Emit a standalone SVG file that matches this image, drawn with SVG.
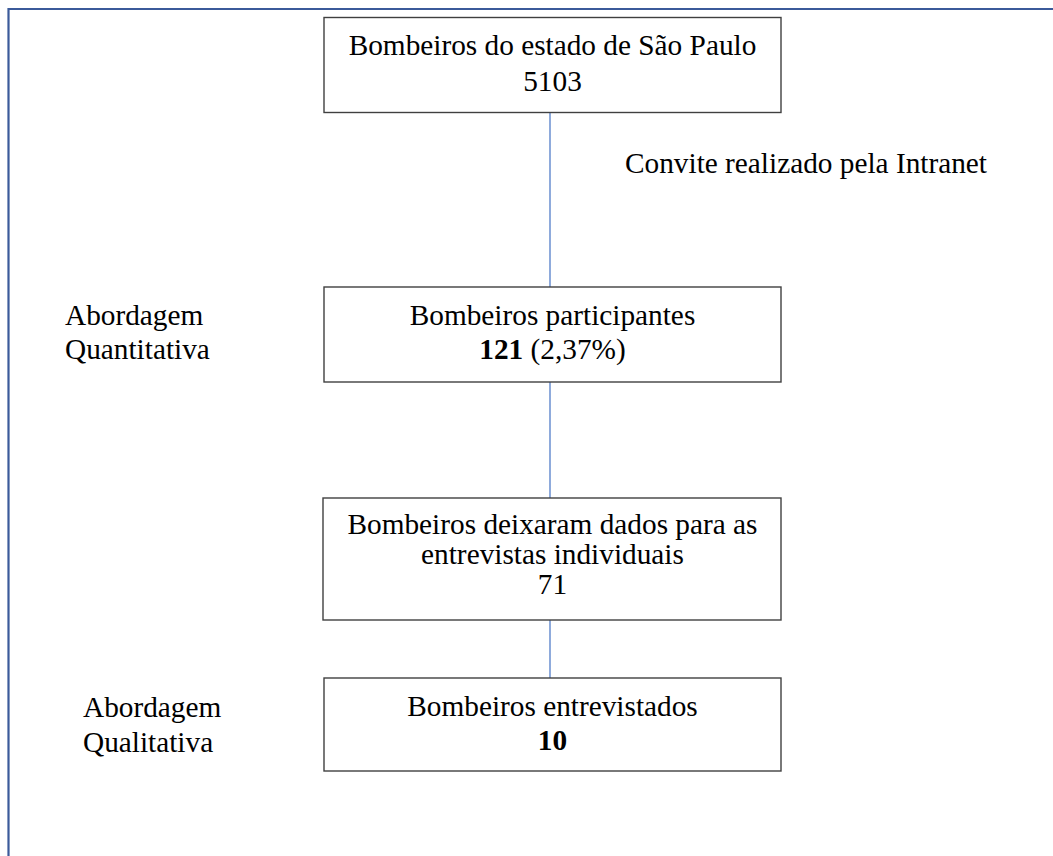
<svg xmlns="http://www.w3.org/2000/svg" width="1053" height="856" viewBox="0 0 1053 856">
<style>
.frame{fill:none;stroke:#3b5a9a;stroke-width:2.2}
.box{fill:#ffffff;stroke:#404040;stroke-width:1.4}
.conn{stroke:#4472c4;stroke-width:1.2;fill:none}
text{font-family:"Liberation Serif","Times New Roman",serif;font-size:29.3px;fill:#000}
.c{text-anchor:middle}
.b{font-weight:bold}
</style>
<rect x="0" y="0" width="1053" height="856" fill="#ffffff"/>
<path class="frame" d="M8.5,856 V9 H1053"/>
<g id="connectors">
<line class="conn" x1="550" y1="113" x2="550" y2="287"/>
<line class="conn" x1="550" y1="382" x2="550" y2="498"/>
<line class="conn" x1="550" y1="620" x2="550" y2="678"/>
</g>
<g id="node-estado">
<rect class="box" x="324" y="17.5" width="457" height="95"/>
<text class="c" x="552.5" y="55">Bombeiros do estado de São Paulo</text>
<text class="c" x="552.5" y="90.5">5103</text>
</g>
<g id="label-convite">
<text x="625" y="173">Convite realizado pela Intranet</text>
</g>
<g id="node-participantes">
<rect class="box" x="324" y="287" width="457" height="95"/>
<text class="c" x="552.5" y="325">Bombeiros participantes</text>
<text class="c" x="552.5" y="359"><tspan class="b">121</tspan> (2,37%)</text>
</g>
<g id="label-quantitativa">
<text x="65" y="325">Abordagem</text>
<text x="65" y="359">Quantitativa</text>
</g>
<g id="node-dados">
<rect class="box" x="323" y="498" width="458" height="122"/>
<text class="c" x="552.5" y="534">Bombeiros deixaram dados para as</text>
<text class="c" x="552.5" y="564">entrevistas individuais</text>
<text class="c" x="552.5" y="594">71</text>
</g>
<g id="node-entrevistados">
<rect class="box" x="324" y="678" width="457" height="93"/>
<text class="c" x="552.5" y="716">Bombeiros entrevistados</text>
<text class="c b" x="552.5" y="750">10</text>
</g>
<g id="label-qualitativa">
<text x="83" y="717">Abordagem</text>
<text x="83" y="752">Qualitativa</text>
</g>
</svg>
